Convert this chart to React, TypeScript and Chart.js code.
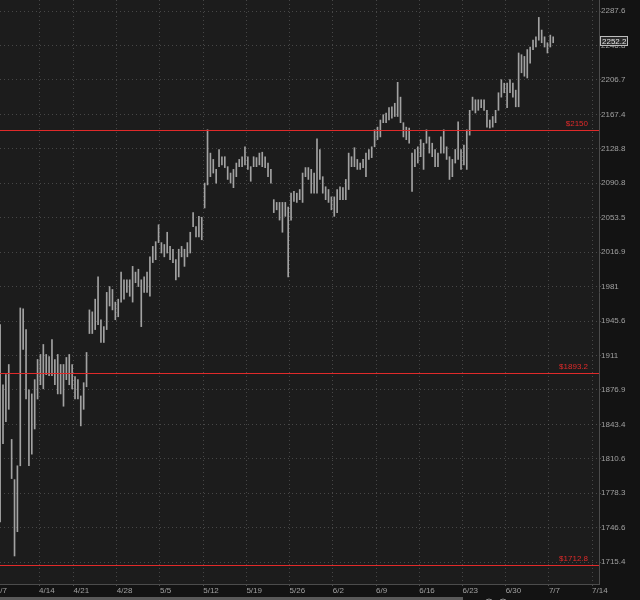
import React, { useEffect, useRef } from "react";
import { Chart, registerables } from "chart.js";

Chart.register(...registerables);

// Bar ranges (high / low), 3 bars per trading day, starting with the 2nd bar of 4/7
const highs = [
  1942, 1882, 1892, 1902, 1829, 1791, 1804, 1959, 1958, 1937,
  1877, 1873, 1887, 1907, 1912, 1922, 1912, 1910, 1927, 1907,
  1912, 1902, 1902, 1909, 1912, 1902, 1890, 1887, 1871, 1884,
  1914, 1957, 1955, 1968, 1991, 1947, 1940, 1975, 1981, 1978,
  1965, 1968, 1996, 1988, 1988, 1988, 2002, 1996, 1999, 1988,
  1991, 1996, 2012, 2023, 2028, 2046, 2027, 2025, 2038, 2023,
  2020, 2009, 2020, 2023, 2020, 2027, 2038, 2059, 2044, 2055,
  2054, 2091, 2150, 2124, 2117, 2106, 2128, 2120, 2120, 2109,
  2102, 2106, 2113, 2117, 2120, 2131, 2120, 2109, 2120, 2119,
  2124, 2125, 2120, 2113, 2106, 2073, 2070, 2070, 2070, 2070,
  2065, 2080, 2082, 2080, 2084, 2102, 2108, 2108, 2106, 2102,
  2140, 2128, 2098, 2087, 2084, 2076, 2076, 2084, 2087, 2086,
  2095, 2124, 2120, 2130, 2117, 2113, 2117, 2124, 2128, 2131,
  2150, 2153, 2161, 2167, 2169, 2175, 2176, 2180, 2204, 2187,
  2158, 2153, 2152, 2124, 2128, 2131, 2139, 2135, 2150, 2142,
  2135, 2128, 2124, 2142, 2150, 2131, 2120, 2117, 2128, 2159,
  2128, 2133, 2150, 2172, 2187, 2184, 2184, 2184, 2184, 2172,
  2161, 2165, 2172, 2192, 2207, 2203, 2203, 2207, 2203, 2195,
  2238, 2236, 2234, 2242, 2245, 2253, 2257, 2280, 2265, 2257,
  2250, 2259, 2257,
];
const lows = [
  1752, 1825, 1846, 1858, 1792, 1721, 1743, 1804, 1917, 1868,
  1804, 1815, 1839, 1868, 1882, 1878, 1892, 1891, 1891, 1882,
  1873, 1873, 1861, 1887, 1882, 1878, 1868, 1868, 1842, 1858,
  1880, 1933, 1933, 1937, 1942, 1924, 1924, 1937, 1961, 1957,
  1947, 1950, 1965, 1968, 1975, 1971, 1965, 1985, 1981, 1940,
  1975, 1975, 1971, 2006, 2009, 2027, 2016, 2012, 2016, 2009,
  2006, 1988, 1991, 2012, 2002, 2012, 2016, 2044, 2033, 2033,
  2030, 2064, 2089, 2098, 2102, 2091, 2109, 2111, 2108, 2095,
  2091, 2086, 2098, 2109, 2109, 2111, 2106, 2093, 2109, 2109,
  2111, 2109, 2108, 2098, 2091, 2059, 2062, 2051, 2038, 2055,
  1991, 2051, 2071, 2070, 2073, 2070, 2098, 2095, 2080, 2080,
  2080, 2095, 2080, 2073, 2070, 2062, 2055, 2059, 2073, 2073,
  2073, 2084, 2109, 2109, 2106, 2106, 2108, 2098, 2117, 2119,
  2131, 2139, 2142, 2158, 2158, 2161, 2163, 2165, 2165, 2158,
  2142, 2139, 2135, 2082, 2109, 2113, 2120, 2106, 2135, 2124,
  2120, 2109, 2109, 2124, 2124, 2117, 2095, 2098, 2113, 2117,
  2106, 2111, 2106, 2144, 2172, 2169, 2172, 2175, 2172, 2153,
  2152, 2153, 2158, 2172, 2187, 2192, 2175, 2192, 2187, 2176,
  2176, 2215, 2211, 2209, 2226, 2242, 2245, 2253, 2250, 2245,
  2238, 2245, 2250,
];
const firstBar = 1;
const barsPerDay = 3;

const weekLabels = ["4/7", "4/14", "4/21", "4/28", "5/5", "5/12", "5/19", "5/26", "6/2", "6/9", "6/16", "6/23", "6/30", "7/7", "7/14"];
const weekStartDay = [0, 5, 9, 14, 19, 24, 29, 34, 39, 44, 49, 54, 59, 64, 69];

const yTickValues = [2287.6, 2246.8, 2206.7, 2167.4, 2128.8, 2090.8, 2053.5, 2016.9, 1981, 1945.6, 1911, 1876.9, 1843.4, 1810.6, 1778.3, 1746.6, 1715.4];

const levelValues = [2150, 1893.2, 1712.8];
const levelLabels = ["$2150", "$1893.2", "$1712.8"];
const lastPrice = 2252.2;

const yMin = 1696;
const yMax = 2300.8;
const xMin = 0.958;
const xMax = 208.9;

const FONT = "'Liberation Sans', Arial, sans-serif";
const TEXT = "#a0a0a0";
const GRID = "rgba(125,125,125,0.45)";
const AXIS = "#4c4c4c";
const RED = "#e02a2a";

export default function App() {
  const ref = useRef<HTMLCanvasElement>(null);

  useEffect(() => {
    if (!ref.current) return;
    const data = highs.map((h, i) => ({ x: firstBar + i, y: [lows[i], h] }));
    const tickPos = weekStartDay.map((d) => d * barsPerDay - 0.5);

    const overlay = {
      id: "overlay",
      beforeDraw(chart: any) {
        const { ctx, chartArea: a, width, height } = chart;
        ctx.save();
        ctx.fillStyle = "#131313";
        ctx.fillRect(0, 0, width, height);
        ctx.fillStyle = "#1c1c1c";
        ctx.fillRect(a.left, a.top, a.right - a.left, a.bottom - a.top);
        ctx.restore();
      },
      afterDatasetsDraw(chart: any) {
        const { ctx, chartArea: a } = chart;
        const ys = chart.scales.y;
        ctx.save();
        levelValues.forEach((v, i) => {
          const y = Math.round(ys.getPixelForValue(v));
          ctx.fillStyle = RED;
          ctx.fillRect(a.left, y, a.right - a.left, 1);
          ctx.font = `8px ${FONT}`;
          ctx.textAlign = "right";
          ctx.textBaseline = "middle";
          ctx.fillText(levelLabels[i], a.right - 11, y - 6);
        });
        ctx.restore();
      },
      afterDraw(chart: any) {
        const { ctx, chartArea: a } = chart;
        const ys = chart.scales.y;
        const xs = chart.scales.x;
        ctx.save();
        // last price badge
        const py = Math.round(ys.getPixelForValue(lastPrice));
        ctx.fillStyle = "#2a2a2a";
        ctx.fillRect(a.right + 1, py - 5, 28, 10);
        ctx.strokeStyle = "#bdbdbd";
        ctx.lineWidth = 1;
        ctx.strokeRect(a.right + 1.5, py - 4.5, 27, 9);
        ctx.fillStyle = "#e2e2e2";
        ctx.font = `8px ${FONT}`;
        ctx.textAlign = "left";
        ctx.textBaseline = "middle";
        ctx.fillText(String(lastPrice), a.right + 3, py + 0.5);
        // first (partially hidden) week label
        ctx.fillStyle = TEXT;
        ctx.fillText(weekLabels[0], xs.getPixelForValue(tickPos[0]), a.bottom + 7);
        // bottom scroll bar + zoom icons
        ctx.fillStyle = "#5a5a5a";
        ctx.fillRect(0, 597, 463, 3);
        ctx.strokeStyle = "#8a8a8a";
        ctx.beginPath();
        ctx.arc(489, 603, 4, 0, Math.PI * 2);
        ctx.stroke();
        ctx.beginPath();
        ctx.arc(503, 603, 4, 0, Math.PI * 2);
        ctx.stroke();
        ctx.restore();
      },
    };

    const chart = new Chart(ref.current, {
      type: "bar",
      data: {
        datasets: [
          {
            data: data as any,
            backgroundColor: "#a2a2a2",
            borderWidth: 0,
            barThickness: 1,
            grouped: false,
          } as any,
        ],
      },
      options: {
        responsive: false,
        animation: false,
        devicePixelRatio: 1,
        layout: { padding: 0 },
        plugins: { legend: { display: false }, tooltip: { enabled: false } },
        scales: {
          x: {
            type: "linear",
            position: "bottom",
            min: xMin,
            max: xMax,
            offset: false,
            afterBuildTicks: (s: any) => {
              s.ticks = tickPos.filter((p) => p >= xMin && p <= xMax).map((v) => ({ value: v }));
            },
            afterFit: (s: any) => {
              s.height = 16;
              s.paddingLeft = 0;
              s.paddingRight = 0;
              s.paddingTop = 0;
              s.paddingBottom = 0;
            },
            ticks: {
              callback: (v: any) => weekLabels[tickPos.indexOf(Number(v))],
              align: "start",
              color: TEXT,
              font: { family: FONT, size: 8 },
              padding: 0,
              autoSkip: false,
              maxRotation: 0,
              minRotation: 0,
            },
            grid: { offset: false, color: GRID, tickLength: 2, tickColor: AXIS },
            border: { display: true, color: AXIS, dash: [1, 3] },
          } as any,
          y: {
            type: "logarithmic",
            position: "right",
            min: yMin,
            max: yMax,
            afterBuildTicks: (s: any) => {
              s.ticks = yTickValues.map((v) => ({ value: v }));
            },
            afterFit: (s: any) => {
              s.width = 41;
              s.paddingLeft = 0;
              s.paddingRight = 0;
              s.paddingTop = 0;
              s.paddingBottom = 0;
            },
            ticks: {
              callback: (v: any) => String(v),
              color: TEXT,
              font: { family: FONT, size: 8 },
              padding: 0,
              autoSkip: false,
            },
            grid: { color: GRID, tickLength: 2, tickColor: AXIS },
            border: { display: true, color: AXIS, dash: [1, 3] },
          } as any,
        },
      },
      plugins: [overlay],
    });
    return () => chart.destroy();
  }, []);

  return (
    <div style={{ position: "fixed", left: 0, top: 0, width: 640, height: 600, background: "#131313" }}>
      <canvas ref={ref} width={640} height={600} style={{ display: "block", width: 640, height: 600 }} />
    </div>
  );
}
